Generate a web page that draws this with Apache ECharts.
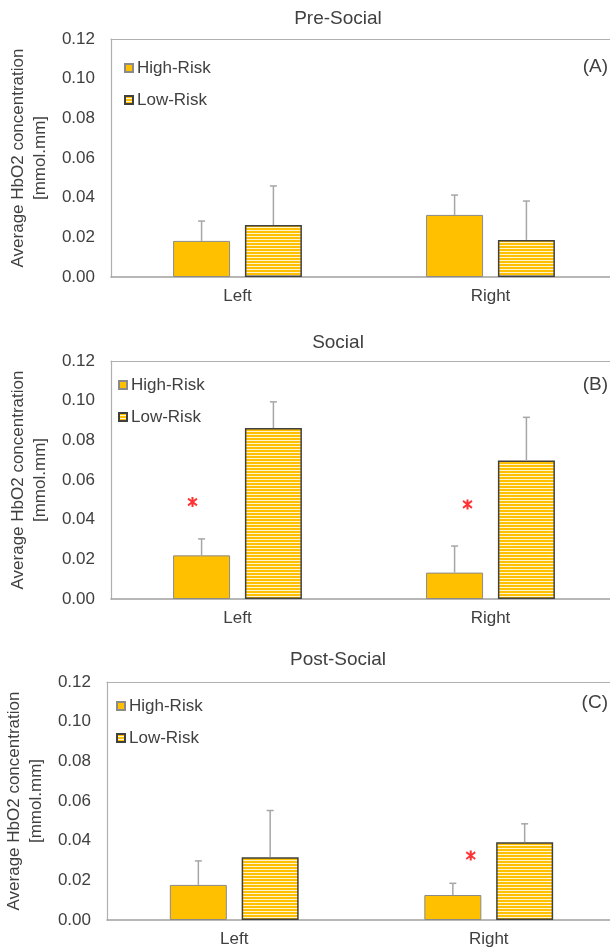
<!DOCTYPE html>
<html>
<head>
<meta charset="utf-8">
<script src="https://cdn.jsdelivr.net/npm/echarts@6/dist/echarts.min.js"></script>
<style>html,body{margin:0;padding:0;background:#fff}#c{width:610px;height:950px}</style>
</head>
<body>
<div id="c"></div>
<script>
// ---- data ----
var categories = ['Left', 'Right'];
var panelTitles = ['Pre-Social', 'Social', 'Post-Social'];
var panelTags = ['(A)', '(B)', '(C)'];
var yTicks = [0, 0.02, 0.04, 0.06, 0.08, 0.10, 0.12];
var seriesNames = ['High-Risk', 'Low-Risk'];

var preHigh = [0.0182, 0.0313];
var preHighSD = [0.0100, 0.0100];
var preLow = [0.0262, 0.0187];
var preLowSD = [0.0197, 0.0196];

var socHigh = [0.0220, 0.0133];
var socHighSD = [0.0083, 0.0134];
var socLow = [0.0862, 0.0698];
var socLowSD = [0.0132, 0.0218];

var postHigh = [0.0177, 0.0126];
var postHighSD = [0.0121, 0.0059];
var postLow = [0.0317, 0.0392];
var postLowSD = [0.0235, 0.0093];

// significance markers: [category, value]
var socStars = [['Left', 0.0489], ['Right', 0.0477]];
var postStars = [['Right', 0.0325]];

// ---- styling ----
var FONT = 'Liberation Sans';
var TXT = '#404040';
var YELLOW = '#ffc000';
var FRAME = '#b0b0b0';
var BAR_W = 57;
var GAP_RATIO = 0.26;
var halfSpan = (BAR_W + BAR_W * GAP_RATIO) / 2;

function stripes() {
  var c = document.createElement('canvas');
  c.width = 4; c.height = 3;
  var g = c.getContext('2d');
  g.fillStyle = YELLOW; g.fillRect(0, 0, 4, 3);
  g.fillStyle = '#fff3d0'; g.fillRect(0, 2, 4, 1);
  return c;
}
var stripeImg = stripes();

var layouts = [
  {left: 111, top: 39, width: 506, height: 238, titleY: 4, legendTop: 58, legendLeft: 124, tagY: 67},
  {left: 111, top: 361, width: 506, height: 238, titleY: 328, legendTop: 375, legendLeft: 118, tagY: 385},
  {left: 107, top: 682, width: 509, height: 238, titleY: 645, legendTop: 696, legendLeft: 116, tagY: 703}
];
var panels = [
  {high: preHigh, highSD: preHighSD, low: preLow, lowSD: preLowSD, stars: [], starOff: []},
  {high: socHigh, highSD: socHighSD, low: socLow, lowSD: socLowSD, stars: socStars, starOff: [-45, -23]},
  {high: postHigh, highSD: postHighSD, low: postLow, lowSD: postLowSD, stars: postStars, starOff: [-18]}
];

var STAR = 'path://M4,0 L6,0 L6,10 L4,10 Z M0.1,2.4 L1.1,0.7 L9.9,7.6 L8.9,9.3 Z M0.1,7.6 L8.9,0.7 L9.9,2.4 L1.1,9.3 Z';

function errSeries(idx, means, sds, dir) {
  var data = means.map(function (m, i) { return [i, m, sds[i]]; });
  return {
    type: 'custom', name: seriesNames[dir < 0 ? 0 : 1], xAxisIndex: idx * 2, yAxisIndex: idx,
    z: 5, silent: true,
    renderItem: function (params, api) {
      var i = api.value(0), m = api.value(1), s = api.value(2);
      var p0 = api.coord([i, m]);
      var p1 = api.coord([i, m + s]);
      var x = p0[0] + dir * halfSpan;
      var st = {stroke: '#a6a6a6', lineWidth: 1.5};
      return {type: 'group', children: [
        {type: 'line', shape: {x1: x, y1: p0[1], x2: x, y2: p1[1]}, style: st},
        {type: 'line', shape: {x1: x - 3.5, y1: p1[1], x2: x + 3.5, y2: p1[1]}, style: st}
      ]};
    },
    encode: {x: 0, y: 1},
    data: data
  };
}

var option = {
  animation: false,
  backgroundColor: '#fff',
  textStyle: {fontFamily: FONT},
  title: [], legend: [], grid: [], xAxis: [], yAxis: [], series: [],
  graphic: []
};

layouts.forEach(function (L, k) {
  var P = panels[k];
  option.title.push({
    text: panelTitles[k], left: 333, top: L.titleY, textAlign: 'center',
    textStyle: {fontFamily: FONT, fontSize: 19, fontWeight: 'normal', color: TXT}
  });
  option.legend.push({
    data: seriesNames, orient: 'vertical', left: L.legendLeft, top: L.legendTop, padding: 0,
    itemWidth: 8, itemHeight: 8, itemGap: 12, icon: 'rect', selectedMode: false,
    textStyle: {fontFamily: FONT, fontSize: 17, color: TXT, lineHeight: 20, padding: [0, 0, 0, -1]}
  });
  option.grid.push({
    left: L.left, top: L.top, width: L.width, height: L.height,
    outerBoundsMode: 'none', containLabel: false, show: false
  });
  // bottom category axis
  option.xAxis.push({
    type: 'category', gridIndex: k, data: categories, position: 'bottom',
    axisLine: {lineStyle: {color: '#a0a0a0', width: 1.5}},
    axisTick: {show: false},
    axisLabel: {fontFamily: FONT, fontSize: 17, color: TXT, margin: 11}
  });
  // top frame edge of the plot area
  option.xAxis.push({
    type: 'category', gridIndex: k, data: categories, position: 'top',
    axisLine: {lineStyle: {color: FRAME, width: 1.2}},
    axisTick: {show: false}, axisLabel: {show: false}, splitLine: {show: false}
  });
  option.yAxis.push({
    type: 'value', gridIndex: k, min: yTicks[0], max: yTicks[yTicks.length - 1], interval: 0.02,
    name: 'Average HbO2 concentration\n[mmol.mm]', nameLocation: 'middle', nameRotate: 90, nameGap: 53,
    nameTextStyle: {fontFamily: FONT, fontSize: 17, color: TXT, lineHeight: 22},
    axisLine: {show: true, lineStyle: {color: FRAME, width: 1.2}},
    axisTick: {show: false}, splitLine: {show: false},
    axisLabel: {fontFamily: FONT, fontSize: 17, color: TXT, margin: 16,
      formatter: function (v) { return v.toFixed(2); }}
  });
  option.series.push({
    type: 'bar', name: seriesNames[0], xAxisIndex: k * 2, yAxisIndex: k, data: P.high,
    barWidth: BAR_W, barGap: (GAP_RATIO * 100) + '%',
    itemStyle: {color: YELLOW, borderColor: '#8a8a8a', borderWidth: 1}
  });
  option.series.push({
    type: 'bar', name: seriesNames[1], xAxisIndex: k * 2, yAxisIndex: k, data: P.low,
    barWidth: BAR_W, barGap: (GAP_RATIO * 100) + '%',
    itemStyle: {color: {image: stripeImg, repeat: 'repeat'}, borderColor: '#404040', borderWidth: 1.5}
  });
  option.series.push(errSeries(k, P.high, P.highSD, -1));
  option.series.push(errSeries(k, P.low, P.lowSD, 1));
  if (P.stars.length) {
    option.series.push({
      type: 'scatter', xAxisIndex: k * 2, yAxisIndex: k, silent: true, z: 6,
      symbol: STAR, symbolSize: 10,
      itemStyle: {color: '#ff0000'},
      data: P.stars.map(function (s, i) { return {value: s, symbolOffset: [P.starOff[i], 0]}; })
    });
  }
  option.graphic.push({
    type: 'text', right: 2, top: L.tagY - 10,
    style: {text: panelTags[k], font: '19px "' + FONT + '"', fill: TXT}
  });
});

var chart = echarts.init(document.getElementById('c'), null, {renderer: 'canvas'});
chart.setOption(option);
</script>
</body>
</html>
